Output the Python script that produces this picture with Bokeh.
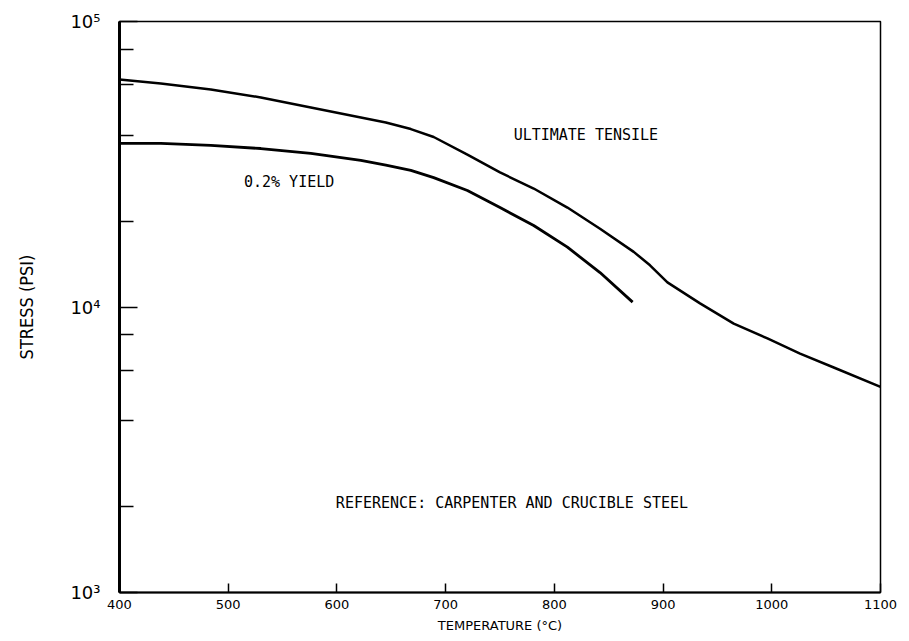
from bokeh.plotting import figure
from bokeh.models import Range1d, FixedTicker, ColumnDataSource
from bokeh.core.properties import value
from bokeh.embed import file_html
from bokeh.resources import INLINE

# ---- data ----
uts_temp = [400, 438, 484, 530, 576, 622, 645, 668, 689, 720, 750, 781, 812, 842, 873,
            888, 904, 934, 965, 996, 1026, 1057, 1100]
uts_psi = [62600, 60600, 57800, 54200, 50000, 46100, 44300, 42000, 39400, 34200, 29600,
           26000, 22300, 18800, 15600, 14000, 12200, 10300, 8750, 7760, 6870, 6140, 5250]

yield_temp = [400, 438, 484, 530, 576, 622, 645, 668, 689, 720, 750, 781, 812, 842, 872]
yield_psi = [37400, 37400, 36800, 35900, 34500, 32600, 31400, 30100, 28400, 25600, 22300,
             19300, 16200, 13200, 10400]

x_ticks = [400, 500, 600, 700, 800, 900, 1000, 1100]
y_ticks = [1000, 10000, 100000]
y_tick_labels = ["10\u00b3", "10\u2074", "10\u2075"]
y_minor = [2000, 4000, 6000, 8000, 20000, 40000, 60000, 80000]

curve_labels = ["ULTIMATE TENSILE", "0.2% YIELD", "REFERENCE: CARPENTER AND CRUCIBLE STEEL"]
label_x = [829, 556, 761]
label_y = [39900, 27300, 2065]

FONT = "DejaVu Sans"

p = figure(width=905, height=640, x_range=Range1d(400, 1100), y_range=Range1d(1000, 100000),
           y_axis_type="log", output_backend="svg", toolbar_location=None,
           min_border_left=119, min_border_right=25, min_border_top=21, min_border_bottom=48)

p.background_fill_color = "white"
p.border_fill_color = "white"
p.outline_line_color = "black"
p.outline_line_width = 1.5
p.xgrid.visible = False
p.ygrid.visible = False

p.line(uts_temp, uts_psi, line_color="black", line_width=2.5, line_join="round")
p.line(yield_temp, yield_psi, line_color="black", line_width=2.8, line_join="round")

src = ColumnDataSource(dict(x=label_x, y=label_y, t=curve_labels))
p.text(x="x", y="y", text="t", source=src, text_font=value("DejaVu Sans Mono"),
       text_font_size="15px", text_align="center", text_baseline="middle", text_color="black")

# x axis
xa = p.xaxis[0]
xa.ticker = FixedTicker(ticks=x_ticks, minor_ticks=[])
xa.axis_label = "TEMPERATURE (\u00b0C)"
xa.axis_label_text_font = FONT
xa.axis_label_text_font_style = "normal"
xa.axis_label_text_font_size = "13px"
xa.axis_label_text_color = "black"
xa.axis_label_standoff = 6
xa.major_label_text_font = FONT
xa.major_label_text_font_size = "13px"
xa.major_label_text_color = "black"
xa.major_label_standoff = 7
xa.major_tick_in = 9
xa.major_tick_out = 0
xa.minor_tick_in = 0
xa.minor_tick_out = 0
xa.axis_line_width = 2
xa.axis_line_color = "black"
xa.major_tick_line_width = 1.5
xa.major_tick_line_color = "black"

# y axis
ya = p.yaxis[0]
ya.ticker = FixedTicker(ticks=y_ticks, minor_ticks=y_minor)
ya.major_label_overrides = {t: l for t, l in zip(y_ticks, y_tick_labels)}
ya.axis_label = "STRESS (PSI)"
ya.axis_label_text_font = "'Liberation Sans Narrow', 'DejaVu Sans Condensed', sans-serif"
ya.axis_label_text_font_style = "normal"
ya.axis_label_text_font_size = "18px"
ya.axis_label_text_color = "black"
ya.axis_label_standoff = 30
ya.major_label_text_font = FONT
ya.major_label_text_font_size = "18px"
ya.major_label_text_color = "black"
ya.major_label_standoff = 19
ya.major_label_orientation = "horizontal"
ya.major_tick_in = 18
ya.major_tick_out = 0
ya.minor_tick_in = 14
ya.minor_tick_out = 0
ya.axis_line_width = 3
ya.axis_line_color = "black"
ya.major_tick_line_width = 1.5
ya.minor_tick_line_width = 1.5
ya.major_tick_line_color = "black"
ya.minor_tick_line_color = "black"

open("out.html", "w").write(file_html(p, INLINE))
